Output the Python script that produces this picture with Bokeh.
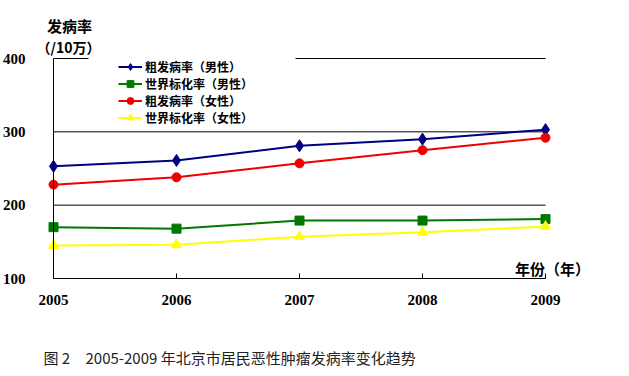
from bokeh.plotting import figure
from bokeh.models import Range1d, FixedTicker, Label, BoxAnnotation, Legend, LegendItem
from bokeh.embed import file_html
from bokeh.resources import INLINE

years = [2005, 2006, 2007, 2008, 2009]
crude_male = [253, 261, 281, 290, 303]
asr_male = [170, 168, 179, 179, 181]
crude_female = [228, 238, 257, 275, 292]
asr_female = [145, 146, 157, 163, 171]

series_names = ["粗发病率（男性）", "世界标化率（男性）", "粗发病率（女性）", "世界标化率（女性）"]
y_ticks = [100, 200, 300, 400]
grid_ticks = [200, 300, 400]
y_title_1 = "发病率"
y_title_2 = "（/10万）"
x_title = "年份（年）"
caption_a = "图 2"
caption_b = "2005-2009 年北京市居民恶性肿瘤发病率变化趋势"

W, H = 629, 376
# pixel mapping of the plotting area (axis corner at 53,278; top-right at 545,58)
PX_X0, PX_PER_YEAR = 53, 123.0
PX_Y0, PX_PER_UNIT = 278, 220 / 300

def dx(px):
    return years[0] + (px - PX_X0) / PX_PER_YEAR

def dy(py):
    return y_ticks[0] + (PX_Y0 - py) / PX_PER_UNIT

p = figure(width=W, height=H, output_backend="svg", toolbar_location=None,
           x_range=Range1d(dx(0), dx(W)), y_range=Range1d(dy(H), dy(0)),
           min_border=0)
p.outline_line_color = None
p.background_fill_color = "white"
p.border_fill_color = "white"

# axes, fixed at the data origin
p.xaxis.ticker = FixedTicker(ticks=years)
p.yaxis.ticker = FixedTicker(ticks=y_ticks)
p.xaxis.fixed_location = y_ticks[0]
p.yaxis.fixed_location = years[0]
p.xaxis.bounds = (years[0], years[-1])
p.yaxis.bounds = (y_ticks[0], y_ticks[-1])
for ax in (p.xaxis[0], p.yaxis[0]):
    ax.axis_line_color = "black"
    ax.axis_line_width = 1
    ax.major_label_text_font = "Liberation Serif"
    ax.major_label_text_font_style = "bold"
    ax.major_label_text_font_size = "15px"
    ax.major_label_text_color = "black"
    ax.minor_tick_line_color = None
p.xaxis.major_tick_in = 5
p.xaxis.major_tick_out = 0
p.xaxis.major_tick_line_color = "black"
p.xaxis.major_label_standoff = 16
p.yaxis.major_tick_line_color = None
p.yaxis.major_label_standoff = 22

p.xgrid.grid_line_color = None
p.ygrid.grid_line_color = None
# horizontal gridlines limited to the data extent
p.segment(x0=[years[0]] * len(grid_ticks), x1=[years[-1]] * len(grid_ticks),
          y0=grid_ticks, y1=grid_ticks, line_color="black", line_width=1)

# white box behind legend (covers part of the top gridline)
p.add_layout(BoxAnnotation(left=dx(88), right=dx(295), bottom=dy(128), top=dy(52),
                           fill_color="white", fill_alpha=1, line_color=None))

styles = [
    (crude_male, "#000080", "diamond", 12),
    (asr_male, "#007800", "square", 9),
    (crude_female, "#ee0000", "circle", 9),
    (asr_female, "#ffff00", "triangle", 10),
]
items = []
for (vals, col, mk, sz), name in zip(styles, series_names):
    r1 = p.line(years, vals, line_color=col, line_width=2)
    r2 = p.scatter(years, vals, marker=mk, size=sz, fill_color=col, line_color=col)
    items.append(LegendItem(label=name, renderers=[r1, r2]))

legend = Legend(items=items, location=(118, 250), padding=0, margin=0,
                border_line_color=None, background_fill_alpha=0,
                label_text_font="Noto Sans CJK SC", label_text_font_style="bold",
                label_text_font_size="12px", label_text_color="black",
                glyph_width=24, glyph_height=17, label_height=17, spacing=0,
                label_standoff=3)
p.add_layout(legend, "center")

def lab(x, y, t, size, bold=True, align="center", font="Noto Sans CJK SC", color="black"):
    p.add_layout(Label(x=x, y=y, text=t, text_font=font, text_font_size=size,
                       text_font_style="bold" if bold else "normal",
                       text_align=align, text_baseline="middle", text_color=color))

lab(dx(69), dy(25), y_title_1, "15px")
lab(dx(68), dy(46), y_title_2, "14px")
lab(dx(552), dy(268), x_title, "15px")
lab(dx(43), dy(357), caption_a, "15px", bold=False, align="left", color="#222222")
lab(dx(85), dy(357), caption_b, "15px", bold=False, align="left", color="#222222")

open("out.html", "w").write(file_html(p, INLINE))
